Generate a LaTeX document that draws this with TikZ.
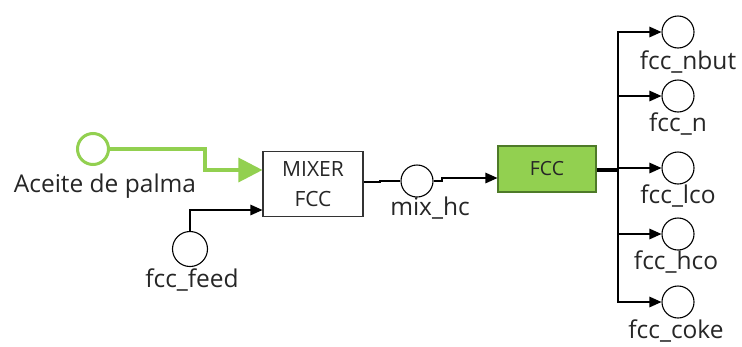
\documentclass[tikz,border=0pt]{standalone}
\usepackage{fontspec}
\setmainfont{Open Sans}
\usetikzlibrary{arrows.meta}
\definecolor{lgreen}{HTML}{92D050}
\definecolor{dgreen}{HTML}{4E7A28}
\definecolor{txt}{HTML}{262626}
\begin{document}
\begin{tikzpicture}[x=1pt,y=-1pt,
  stream/.style={circle,draw=black,line width=1.1pt,minimum size=33pt,inner sep=0pt},
  lbl/.style={font=\fontsize{24.5}{26}\selectfont,text=txt,inner sep=0pt},
  conn/.style={draw=black,line width=1.3pt,-{Triangle[length=12pt,width=10.5pt]}},
  greenconn/.style={draw=lgreen,line width=3.2pt,-{Triangle[length=24pt 0,width=24pt 0]}},
  unitbox/.style={draw=black!80,line width=1.1pt,inner sep=0pt,font=\fontsize{21}{30}\selectfont,text=txt,align=center}]
\useasboundingbox (0,0) rectangle (742,346);
% streams
\node[stream,draw=lgreen,line width=3pt,minimum size=31pt] (aceite) at (93,149) {};
\node[lbl,anchor=center] (aceitel) at (105,186) {Aceite de palma};
\node[stream,minimum size=35pt] (feed) at (190,249) {};
\node[lbl] (feedl) at (192,280) {fcc\_feed};
\node[stream,minimum size=32pt] (mix) at (417,181) {};
\node[lbl] (mixl) at (430,208) {mix\_hc};
% units
\node[unitbox,minimum width=100pt,minimum height=65pt] (mixer) at (313,184) {MIXER\\FCC};
\node[unitbox,fill=lgreen,draw=dgreen,minimum width=98pt,minimum height=46pt,font=\fontsize{19.5}{20}\selectfont] (fcc) at (547,169) {FCC};
% outputs
\node[stream,minimum size=32pt] (nbut) at (678,32) {};
\node[lbl] (nbutl) at (688,62) {fcc\_nbut};
\node[stream,minimum size=32pt] (nn) at (678,96) {};
\node[lbl] (nnl) at (678,124) {fcc\_n};
\node[stream,minimum size=32pt] (lco) at (678,168) {};
\node[lbl] (lcol) at (678,196) {fcc\_lco};
\node[stream,minimum size=32pt] (hco) at (678,234) {};
\node[lbl] (hcol) at (676,262) {fcc\_hco};
\node[stream,minimum size=32pt] (coke) at (678,302) {};
\node[lbl] (cokel) at (676,331) {fcc\_coke};
% connectors
\draw[greenconn] (aceite.east) -- (205,149) |- (mixer.west |- 0,170);
\draw[conn] (feed.north) |- (mixer.west |- 0,210);
\draw[conn,-] (mixer.east |- 0,182) -- (380,182) -- (380,181) -- (mix.west);
\draw[conn] (mix.east) -- (442,181) -- (442,178) -- (fcc.west |- 0,178);
\coordinate (bus) at (618,170);
\draw[line width=4pt] (fcc.east |- bus) -- (bus);
\draw[conn] (bus) |- (nbut.west);
\draw[conn] (bus) |- (nn.west);
\draw[conn] (bus) |- (lco.west);
\draw[conn] (bus) |- (hco.west);
\draw[conn] (bus) |- (coke.west);
\draw[line width=2.5pt] (bus) -- (618,96);
\end{tikzpicture}
\end{document}
